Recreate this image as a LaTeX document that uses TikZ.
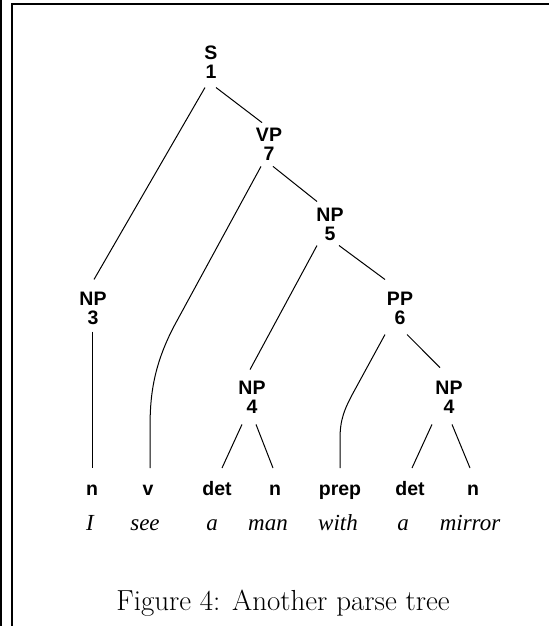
\documentclass[tikz,border=0pt]{standalone}
\usepackage{fontspec}
\newfontfamily\labfont{Liberation Sans}
\newfontfamily\wordfont{Liberation Serif}
\begin{document}
\begin{tikzpicture}[x=1pt,y=-1pt,
  tn/.style={inner sep=0pt, align=center, font=\labfont\bfseries\fontsize{19.5}{19}\selectfont},
  pre/.style={inner sep=0pt, anchor=base, font=\labfont\bfseries\fontsize{19.5}{20}\selectfont},
  wd/.style={inner sep=0pt, anchor=base, font=\wordfont\itshape\fontsize{23}{26}\selectfont},
  ln/.style={line width=1pt},
  frm/.style={line width=2pt, line join=miter}]
\useasboundingbox (0,0) rectangle (549,626);
% frame
\draw[frm] (12,626) -- (12,4) -- (549,4);
\draw[frm] (1,0) -- (1,626);
% tree nodes
\node[tn] (S)   at (211,62)    {S\\1};
\node[tn] (VP)  at (269,144.5) {VP\\7};
\node[tn] (NPf) at (330,224.5) {NP\\5};
\node[tn] (NPt) at (93,308)    {NP\\3};
\node[tn] (PP)  at (400,308.5) {PP\\6};
\node[tn] (NPl) at (252,397.5) {NP\\4};
\node[tn] (NPr) at (449,397.5) {NP\\4};
% preterminals
\node[pre] (p1) at (92,495)  {n};
\node[pre] (p2) at (148,495) {v};
\node[pre] (p3) at (217,495) {det};
\node[pre] (p4) at (275,495) {n};
\node[pre] (p5) at (340,495) {prep};
\node[pre] (p6) at (410,495) {det};
\node[pre] (p7) at (473,495) {n};
% words
\node[wd] (w1) at (90,530)  {I};
\node[wd] (w2) at (145,530) {see};
\node[wd] (w3) at (212,530) {a};
\node[wd] (w4) at (268,530) {man};
\node[wd] (w5) at (338,530) {with};
\node[wd] (w6) at (403,530) {a};
\node[wd] (w7) at (470,530) {mirror};
% caption
\node[anchor=base, inner sep=0pt, font=\fontsize{29}{34}\selectfont] (cap) at (283,610) {Figure 4: Another parse tree};
% edges
\draw[ln] ([shift={(-6,9)}]S.south) -- ([shift={(1,-12)}]NPt.north);
\draw[ln] ([shift={(5,9)}]S.south) -- ([shift={(-7,-5.5)}]VP.north);
\draw[ln] ([shift={(-8,5.5)}]VP.south) -- ++(-86,158) .. controls +(-23,43) and +(0,-30) .. ++(-25,105) -- ([shift={(2,-27)}]p2.base);
\draw[ln] ([shift={(4,5.5)}]VP.south) -- ([shift={(-13,-6.5)}]NPf.north);
\draw[ln] ([shift={(-13,4.5)}]NPf.south) -- ([shift={(-2,-11.5)}]NPl.north);
\draw[ln] ([shift={(9,4.5)}]NPf.south) -- ([shift={(-15,-12.5)}]PP.north);
\draw[ln] ([shift={(-1,7)}]NPt.south) -- ([shift={(0,-27)}]p1.base);
\draw[ln] ([shift={(-15,9.5)}]PP.south) -- ++(-30,55) .. controls +(-11,20) and +(0,-20) .. ++(-15,50) -- ([shift={(0,-27)}]p5.base);
\draw[ln] ([shift={(7,9.5)}]PP.south) -- ([shift={(-9,-13.5)}]NPr.north);
\draw[ln] ([shift={(-10,10.5)}]NPl.south) -- ([shift={(5,-27)}]p3.base);
\draw[ln] ([shift={(4,10.5)}]NPl.south) -- ([shift={(-2,-27)}]p4.base);
\draw[ln] ([shift={(-17,10.5)}]NPr.south) -- ([shift={(2,-27)}]p6.base);
\draw[ln] ([shift={(3,10.5)}]NPr.south) -- ([shift={(-3,-27)}]p7.base);
\end{tikzpicture}
\end{document}
